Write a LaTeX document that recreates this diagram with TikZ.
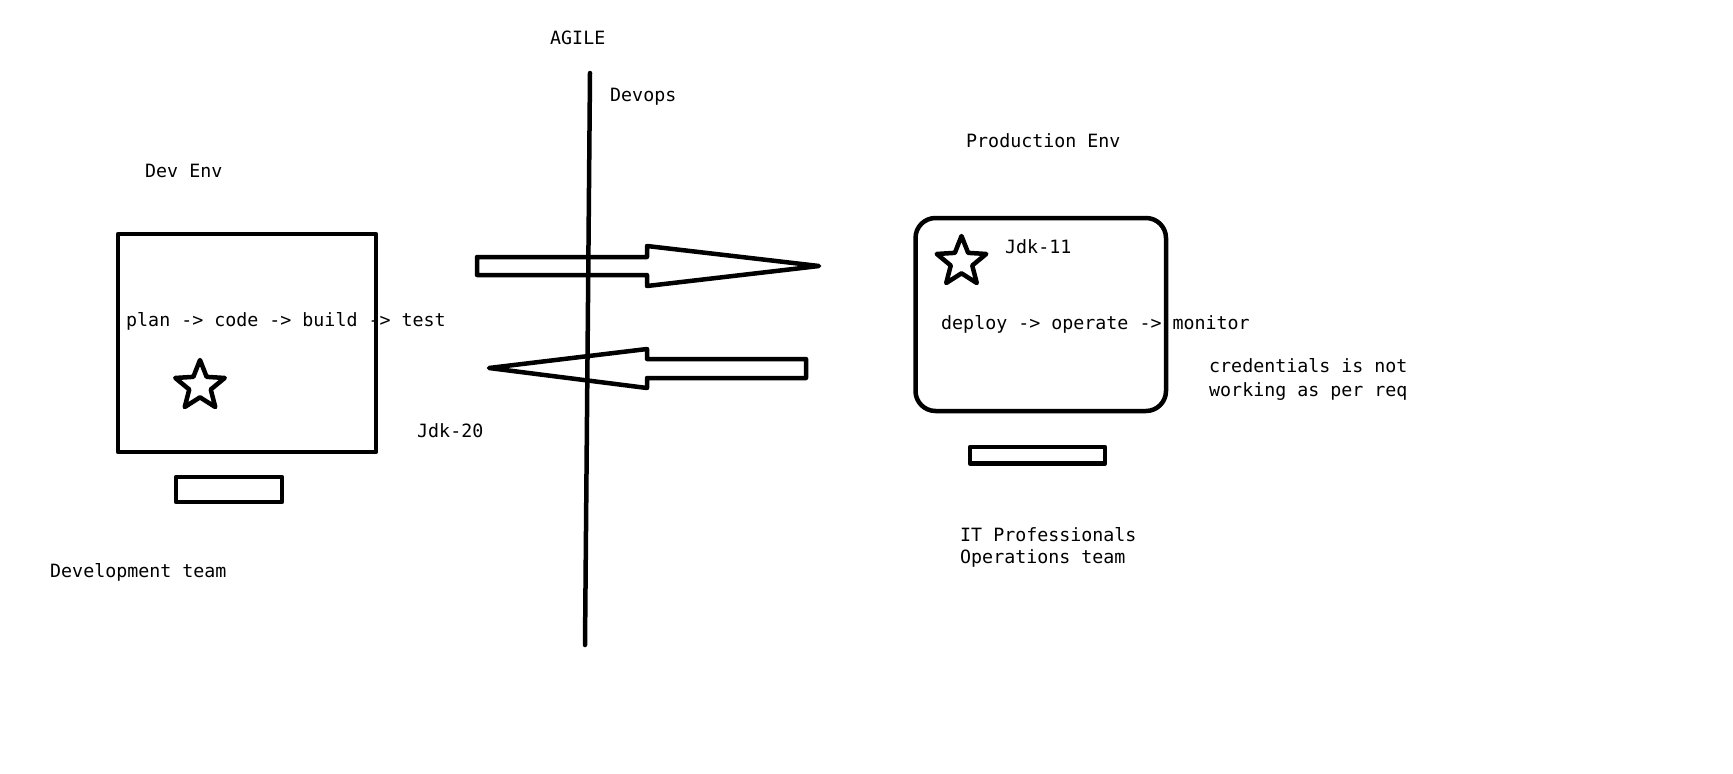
\documentclass[tikz,border=0pt]{standalone}
\usepackage{fontspec}
\setmonofont{DejaVu Sans Mono}
\usetikzlibrary{shapes.geometric}
\tikzset{
  stroke/.style={draw=black,line width=4.5pt,line join=round},
  lbl/.style={inner sep=0pt,anchor=base west,font=\ttfamily\fontsize{18.3}{24}\selectfont},
  starmark/.style={stroke,star,star points=5,star point ratio=2.3,minimum size=52pt,inner sep=0pt},
}
\begin{document}
\begin{tikzpicture}[x=1pt,y=-1pt]
\fill[white] (0,0) rectangle (1733,774);
\useasboundingbox (0,0) rectangle (1733,774);

% divider
\coordinate (ltop) at (590,73);
\coordinate (lbot) at (585,645);
\draw[stroke,line cap=round] (ltop) -- (lbot);

% boxes
\node[stroke,rectangle,minimum width=258pt,minimum height=218pt,inner sep=0pt] (devbox) at (247,343) {};
\node[stroke,rectangle,minimum width=106pt,minimum height=25pt,inner sep=0pt] (devbase) at (229,489.5) {};
\node[stroke,rectangle,rounded corners=20pt,minimum width=250.5pt,minimum height=193pt,inner sep=0pt] (prodbox) at (1040.75,314.5) {};
\node[stroke,rectangle,minimum width=135pt,minimum height=16.5pt,inner sep=0pt] (prodbase) at (1037.5,455.25) {};

% stars
\node[starmark] (devstar) at (200,386) {};
\node[starmark] (prodstar) at (961.5,262) {};

% block arrows
\draw[stroke] (477,257) -- (647,257) -- (647,246) -- (819,266) -- (647,286) -- (647,275) -- (477,275) -- cycle;
\draw[stroke] (489,368) -- (647,349) -- (647,359) -- (806,359) -- (806,378) -- (647,378) -- (647,388) -- cycle;

% labels
\node[lbl] (agile) at (550,44) {AGILE};
\node[lbl] (devops) at (610,101) {Devops};
\node[lbl] (devenv) at (145,177) {Dev Env};
\node[lbl] (prodenv) at (966,147) {Production Env};
\node[lbl] (jdk11) at (1005,253) {Jdk-11};
\node[lbl] (devflow) at (126,326) {plan -> code -> build -> test};
\node[lbl] (prodflow) at (941,329) {deploy -> operate -> monitor};
\node[lbl] (cred1) at (1209,372) {credentials is not};
\node[lbl] (cred2) at (1209,396) {working as per req};
\node[lbl] (jdk20) at (417,437) {Jdk-20};
\node[lbl] (itpro) at (960,541) {IT Professionals};
\node[lbl] (opsteam) at (960,563.5) {Operations team};
\node[lbl] (devteam) at (50,577) {Development team};
\end{tikzpicture}
\end{document}
